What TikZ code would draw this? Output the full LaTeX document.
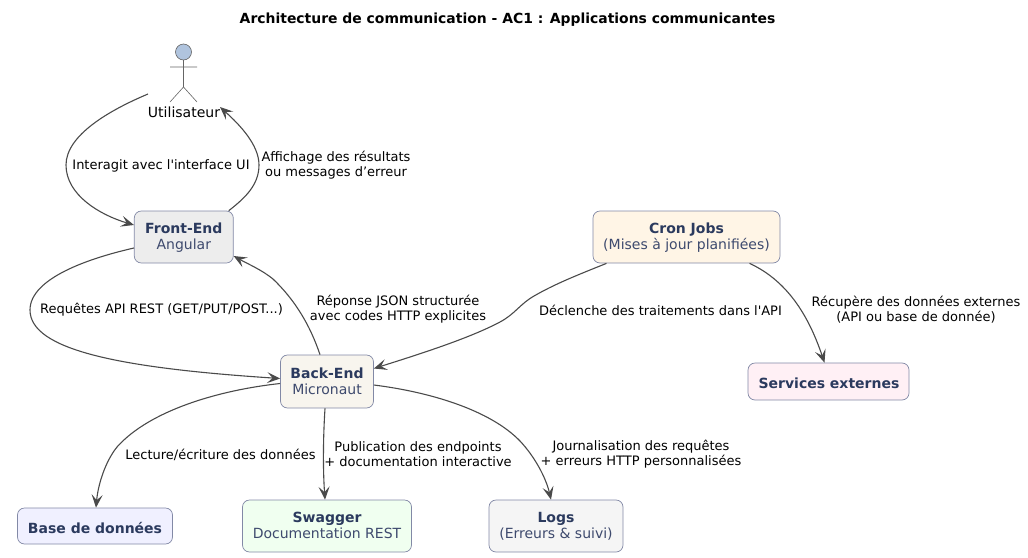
\documentclass[tikz,border=0pt]{standalone}
\usepackage{fontspec}
\setmainfont{DejaVu Sans}
\newfontfamily\plainfont{DejaVu Sans}
\usetikzlibrary{arrows.meta,positioning}
\definecolor{edgecol}{HTML}{4A4A4A}
\definecolor{boxline}{HTML}{8289A6}
\definecolor{titlecol}{HTML}{2B3A5E}
\definecolor{subcol}{HTML}{3E4A6E}
\definecolor{actorfill}{HTML}{B0C4DE}
\newcommand{\boxtext}[2]{\raisebox{-1.5pt}[\height][\depth]{\begin{tabular}{@{}c@{}}{\bfseries\color{titlecol}#1}\\{\color{subcol}#2}\end{tabular}}}
\newcommand{\boxone}[1]{\raisebox{-1.5pt}[\height][\depth]{\bfseries\color{titlecol}#1}}
\tikzset{
  x=1pt,y=-1pt,
  box/.style={draw=boxline,line width=0.7pt,rounded corners=7pt,inner sep=0pt,align=center,font=\fontsize{14}{16}\selectfont,text=titlecol},
  lbl/.style={inner sep=0pt,align=center,font=\plainfont\fontsize{13}{15}\selectfont,text=black},
  conn/.style={draw=edgecol,line width=1.1pt,-{Stealth[length=13pt,width=11pt,inset=5.5pt]}},
  actorline/.style={draw=edgecol!85,line width=0.6pt}
}
\begin{document}
\begin{tikzpicture}
\useasboundingbox (0,0) rectangle (1028,557);
\node[inner sep=0pt,font=\fontsize{13.93}{16}\selectfont\bfseries] (title) at (507.5,19.5) {Architecture de communication - AC1 : Applications communicantes};

% actor
\draw[actorline,fill=actorfill] (183.5,52) circle (8);
\draw[actorline] (183.5,60) -- (183.5,87) (170,67) -- (197,67) (170,102) -- (183.5,87) -- (197,102);
\node[inner sep=0pt,font=\fontsize{14}{16}\selectfont] (user) at (184,112) {Utilisateur};
\coordinate (userout) at (148,94);
\coordinate (userin) at (220,107);

% boxes
\node[box,fill=black!7,minimum width=99,minimum height=52] (front) at (183.8,237) {\boxtext{Front-End}{Angular}};
\node[box,fill={rgb,255:red,248;green,245;blue,238},minimum width=93,minimum height=53] (back) at (327,381.5) {\boxtext{Back-End}{Micronaut}};
\node[box,fill={rgb,255:red,255;green,245;blue,230},minimum width=187,minimum height=52] (cron) at (686.5,237) {\boxtext{Cron Jobs}{(Mises à jour planifiées)}};
\node[box,fill={rgb,255:red,255;green,240;blue,245},minimum width=161,minimum height=37] (ext) at (828.5,381.5) {\boxone{\hspace{1pt}Services externes}};
\node[box,fill={rgb,255:red,240;green,240;blue,255},minimum width=155,minimum height=36] (db) at (95,526) {\boxone{Base de données}};
\node[box,fill={rgb,255:red,240;green,255;blue,240},minimum width=169,minimum height=52] (swagger) at (327,526) {\boxtext{Swagger}{Documentation REST}};
\node[box,fill={rgb,255:red,245;green,245;blue,245},minimum width=134,minimum height=52] (logs) at (556,526) {\boxtext{Logs}{(Erreurs \& suivi)}};

% connectors
\draw[conn] (userout) .. controls (110,110) and (66,135) .. (66,165) .. controls (66,195) and (100,215) .. ([yshift=12pt]front.west);
\draw[conn] ([xshift=45pt]front.north) .. controls (245,198) and (259,185) .. (259,165) .. controls (259,145) and (240,125) .. (userin);
\draw[conn] ([yshift=-11pt]front.west) .. controls (90,258) and (30,278) .. (30,310) .. controls (30,350) and (120,368) .. ([yshift=3pt]back.west);
\draw[conn] ([xshift=-7pt]back.north) .. controls (310,325) and (295,300) .. (273,279) .. controls (262,270) and (248,264) .. ([yshift=-19pt]front.east);
\draw[conn] ([xshift=-80pt]cron.south) .. controls (575,276) and (555,284) .. (534,296) .. controls (520,304) and (515,314) .. (500,322) .. controls (470,338) and (420,354) .. ([yshift=13pt]back.east);
\draw[conn] ([xshift=63pt]cron.south) .. controls (790,282) and (810,320) .. ([xshift=-4pt]ext.north);
\draw[conn] ([yshift=-2pt]back.west) .. controls (220,390) and (150,410) .. (117,447) .. controls (105,462) and (98,485) .. ([xshift=1pt]db.north);
\draw[conn] ([xshift=-2pt]back.south) .. controls (323,440) and (323,470) .. ([xshift=-2pt]swagger.north);
\draw[conn] ([yshift=-3.5pt]back.east) .. controls (430,392) and (490,410) .. (520,441) .. controls (535,457) and (546,478) .. ([xshift=-5pt]logs.north);

% labels
\node[lbl] (l1) at (161,165.5) {Interagit avec l'interface UI};
\node[lbl] (l2) at (336,165) {Affichage des résultats\\ou messages d’erreur};
\node[lbl] (l3) at (161.5,310) {Requêtes API REST (GET/PUT/POST...)};
\node[lbl] (l4) at (398,309.5) {Réponse JSON structurée\\avec codes HTTP explicites};
\node[lbl] (l5) at (660.5,310) {Déclenche des traitements dans l'API};
\node[lbl] (l6) at (916,310) {Récupère des données externes\\(API ou base de donnée)};
\node[lbl] (l7) at (220.5,454.5) {Lecture/écriture des données};
\node[lbl] (l8) at (418,454) {Publication des endpoints\\+ documentation interactive};
\node[lbl] (l9) at (641,454) {Journalisation des requêtes\\+ erreurs HTTP personnalisées};
\end{tikzpicture}
\end{document}
